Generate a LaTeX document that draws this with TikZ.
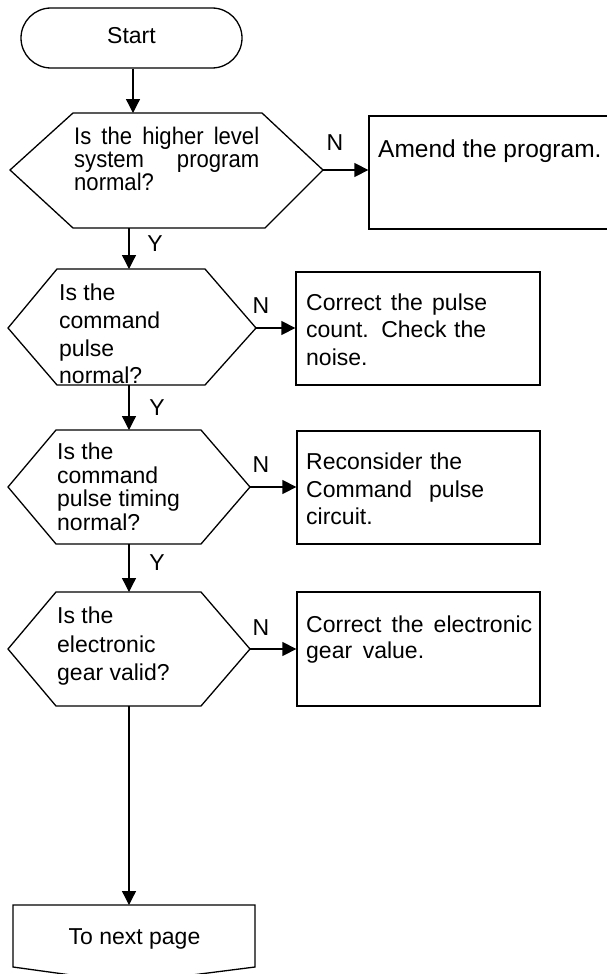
\documentclass[tikz,border=0pt]{standalone}
\usepackage{fontspec}
\setmainfont{Liberation Sans}
\newfontfamily\narrowfont[FakeStretch=0.92]{Liberation Sans}
\usetikzlibrary{arrows.meta}
\newcommand\bodyfont{\fontsize{23}{27}\selectfont}
\newcommand\hexonefont{\narrowfont\fontsize{24}{23}\selectfont}
\newcommand\boxonefont{\fontsize{24.5}{27}\selectfont}
\begin{document}
\begin{tikzpicture}[x=1pt,y=-1pt,
  shapeline/.style={line width=1.3pt, line join=miter},
  arr/.style={line width=1.3pt, -{Triangle[length=14pt,width=14pt]}},
  txt/.style={anchor=base west, inner sep=0pt, font=\bodyfont},
  tight/.style={txt, font=\hexonefont},
  yn/.style={anchor=base, inner sep=0pt, font=\bodyfont},
  box/.style={draw, line width=1.3pt, rectangle, inner sep=0pt},
]
\useasboundingbox (0,0) rectangle (607,974);

% Start
\node[box, rounded corners=30pt, minimum width=221pt, minimum height=60pt,
      font=\bodyfont, text height=16.5pt, text depth=5.5pt] (start) at (131.5,38) {Start};

% Decision 1
\draw[shapeline] (10,170) -- (73,113) -- (262,113) -- (323,170) -- (265,228) -- (73,228) -- cycle;
\coordinate (h1n) at (133,113);
\coordinate (h1s) at (129,228);
\coordinate (h1e) at (323,170);
\node[tight] (t1a) at (74,144) {\makebox[185pt][s]{Is the higher level}};
\node[tight] (t1b) at (74,167) {\makebox[185pt][s]{system program}};
\node[tight] (t1c) at (74,190.5) {normal?};

\node[box, minimum width=246pt, minimum height=113pt] (b1) at (492,172.5) {};
\node[txt, font=\boxonefont] (t1d) at (378,157) {Amend the program.};

\draw[arr] (start.south -| h1n) -- (h1n);
\draw[arr] (h1e) -- (h1e -| b1.west);
\node[yn] (n1) at (335,150) {N};
\node[yn] (y1) at (155,251) {Y};

% Decision 2
\draw[shapeline] (8,328) -- (57,269) -- (205,269) -- (256,328) -- (205,385) -- (57,385) -- cycle;
\coordinate (h2n) at (129,269);
\coordinate (h2s) at (129,385);
\coordinate (h2e) at (256,328);
\node[txt] (t2a) at (59,300) {Is the};
\node[txt] (t2b) at (59,328) {command};
\node[txt] (t2c) at (59,356) {pulse};
\node[txt] (t2d) at (59,383) {normal?};

\node[box, minimum width=244pt, minimum height=113pt] (b2) at (418,328.5) {};
\node[txt] (t2e) at (306,310) {\makebox[181pt][s]{Correct the pulse}};
\node[txt] (t2f) at (306,337) {\makebox[180pt][s]{count. Check the}};
\node[txt] (t2g) at (306,365) {noise.};

\draw[arr] (h1s) -- (h2n);
\draw[arr] (h2e) -- (h2e -| b2.west);
\node[yn] (n2) at (261,313) {N};
\node[yn] (y2) at (157,415) {Y};

% Decision 3
\draw[shapeline] (8,487) -- (56,430) -- (201,430) -- (250,487) -- (201,544) -- (56,544) -- cycle;
\coordinate (h3n) at (129,430);
\coordinate (h3s) at (129,544);
\coordinate (h3e) at (250,487);
\node[txt] (t3a) at (57,459) {Is the};
\node[txt] (t3b) at (57,483) {command};
\node[txt] (t3c) at (57,506) {pulse timing};
\node[txt] (t3d) at (57,530) {normal?};

\node[box, minimum width=243pt, minimum height=113pt] (b3) at (418.5,487.5) {};
\node[txt] (t3e) at (306,469) {\makebox[156pt][s]{Reconsider the}};
\node[txt] (t3f) at (306,497) {\makebox[178pt][s]{Command pulse}};
\node[txt] (t3g) at (306,524) {circuit.};

\draw[arr] (h2s) -- (h3n);
\draw[arr] (h3e) -- (h3e -| b3.west);
\node[yn] (n3) at (261,472) {N};
\node[yn] (y3) at (157,570) {Y};

% Decision 4
\draw[shapeline] (8,649) -- (56,592) -- (201,592) -- (250,649) -- (201,706) -- (56,706) -- cycle;
\coordinate (h4n) at (129,592);
\coordinate (h4s) at (129,706);
\coordinate (h4e) at (250,649);
\node[txt] (t4a) at (57,623) {Is the};
\node[txt] (t4b) at (57,652) {electronic};
\node[txt] (t4c) at (57,680) {gear valid?};

\node[box, minimum width=243pt, minimum height=114pt] (b4) at (418.5,649) {};
\node[txt] (t4e) at (306,632) {\makebox[226pt][s]{Correct the electronic}};
\node[txt] (t4f) at (306,658) {\makebox[118pt][s]{gear value.}};

\draw[arr] (h3s) -- (h4n);
\draw[arr] (h4e) -- (h4e -| b4.west);
\node[yn] (n4) at (261,635) {N};

% Off-page connector
\draw[shapeline] (13,905) -- (255,905) -- (255,967) -- (129,983) -- (13,967) -- cycle;
\coordinate (npn) at (129,905);
\node[yn] (np) at (134.5,944) {To next page};

\draw[arr] (h4s) -- (npn);
\end{tikzpicture}
\end{document}
